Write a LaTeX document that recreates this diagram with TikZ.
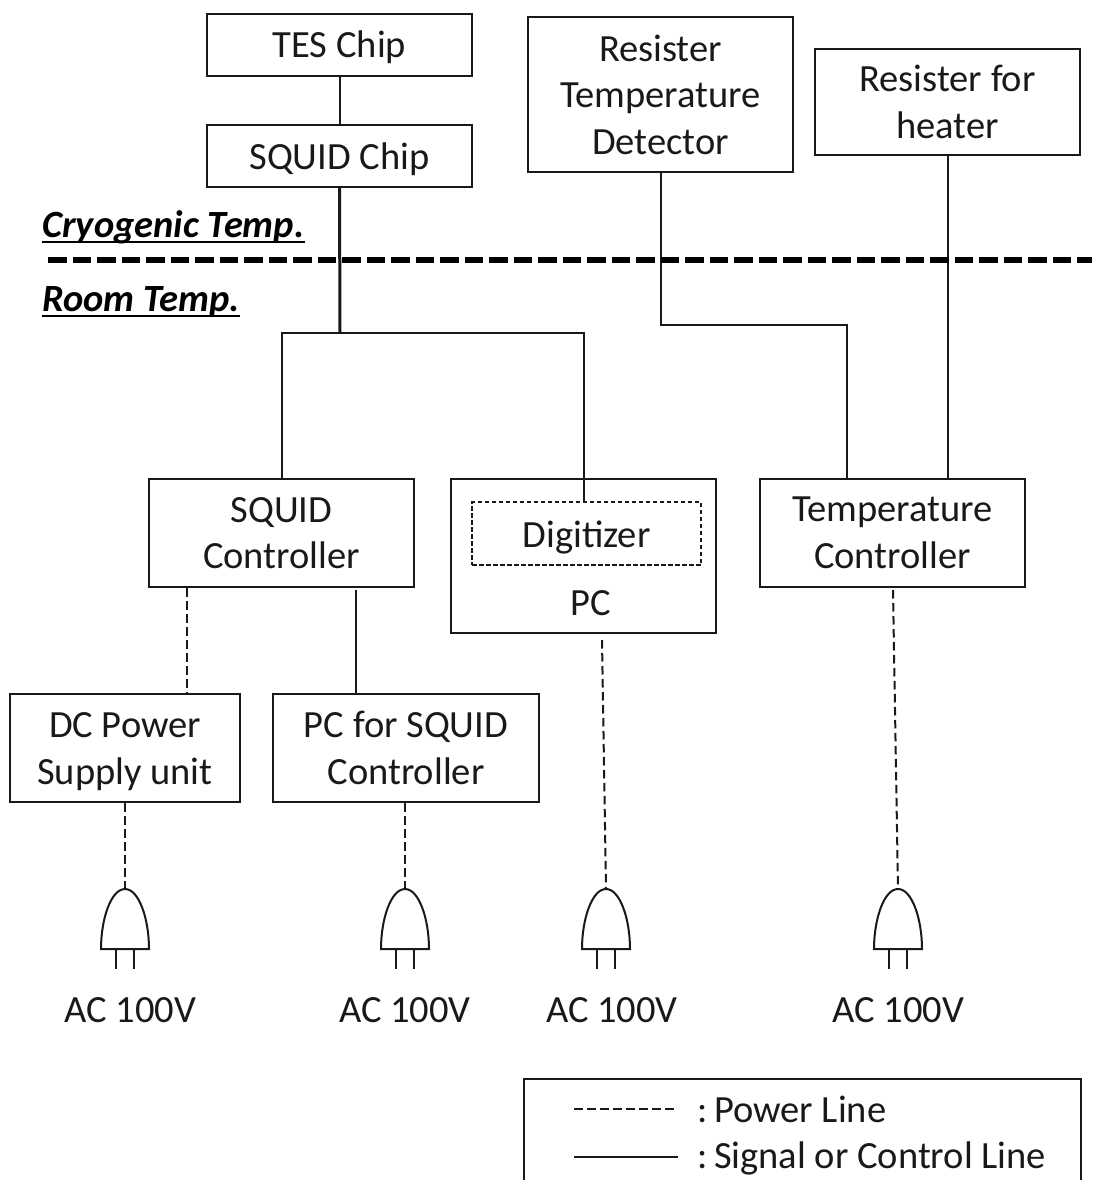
\documentclass[tikz,border=0pt]{standalone}
\usepackage{fontspec}
\setmainfont{Carlito}
\usetikzlibrary{calc}
\newcommand{\ulx}[1]{\setbox0=\hbox{#1}\rlap{\rule[-5.5pt]{\wd0}{2pt}}\box0}
\tikzset{
  x=1pt,y=-1pt,
  wire/.style={line width=2pt,black!90},
  heavy/.style={line width=3pt,black!90},
  power/.style={line width=2pt,black!90,dash pattern=on 8.5pt off 4.5pt},
  boxn/.style={draw=black!90,line width=2pt,fill=none,align=center,inner sep=0pt,font=\fontsize{38.5}{46.5}\selectfont,text=black!90},
  lab/.style={inner sep=0pt,font=\fontsize{38.5}{46}\selectfont,text=black!90},
  temp/.style={inner sep=0pt,anchor=base west,font=\fontsize{38.5}{46}\selectfont\bfseries\itshape},
}
\newcommand{\plugat}[3]{% name, x, y(tip)
  \coordinate (#1) at (#2,#3);
  \draw[line width=2pt,black!90,line join=miter] (#2-24,#3+60) .. controls (#2-24,#3+30) and (#2-14,#3) .. (#2,#3)
     .. controls (#2+14,#3) and (#2+24,#3+30) .. (#2+24,#3+60) -- cycle;
  \draw[line width=2pt,black!90] (#2-9.5,#3+60) -- (#2-9.5,#3+80) (#2+9,#3+60) -- (#2+9,#3+80);
}
\begin{document}
\begin{tikzpicture}
\useasboundingbox (0,0) rectangle (1092,1180);
\clip (0,0) rectangle (1092,1180);
% boxes
\node[boxn,minimum width=265pt,minimum height=62pt,text height=34pt,text depth=8pt] (tes) at (339.5,45) {TES Chip};
\node[boxn,minimum width=265pt,minimum height=62pt,text height=34pt,text depth=8pt] (squid) at (339.5,156) {SQUID Chip};
\node[boxn,minimum width=265pt,minimum height=155pt] (rtd) at (660.5,94.5) {Resister\\Temperature\\Detector};
\node[boxn,minimum width=265pt,minimum height=106pt] (heater) at (947.5,102) {Resister for\\heater};
\node[boxn,minimum width=265pt,minimum height=108pt] (sc) at (281.5,533) {SQUID\\Controller};
\node[boxn,minimum width=265pt,minimum height=154pt] (pc) at (583.5,556) {};
\node[boxn,draw=none] (pclab) at (591,603) {PC};
\node[boxn,minimum width=229pt,minimum height=63pt,dash pattern=on 4.5pt off 2.5pt,text height=35pt,text depth=8pt] (dig) at (586.5,533.5) {Digitizer};
\node[boxn,minimum width=265pt,minimum height=108pt] (tc) at (892.5,533) {Temperature\\Controller};
\node[boxn,minimum width=230pt,minimum height=108pt] (dc) at (125,748) {\rule{0pt}{32pt}DC Power\\Supply unit};
\node[boxn,minimum width=266pt,minimum height=108pt] (pcs) at (406,748) {PC for SQUID\\Controller};
% signal lines
\coordinate (junc) at (340,333);
\draw[wire] (tes.south) -- (squid.north);
\draw[heavy] (squid.south) -- (junc);
\draw[wire] (sc.north) |- (junc) -| (dig.north -| pc.north);
\draw[wire] (rtd.south) |- (847,325) coordinate (t1) -- (t1 |- tc.north);
\draw[wire] (heater.south) -- (heater.south |- tc.north);
\coordinate (sc2) at (356,590);
\draw[wire] (sc2) -- (sc2 |- pcs.north);
% temperature boundary
\coordinate (bl) at (48,260);
\coordinate (br) at (1092,260);
\draw[line width=6pt,black,dash pattern=on 18.5pt off 6pt] (bl) -- (br);
\node[temp] (cryo) at (42,237.5) {\ulx{Cryogenic Temp.}};
\node[temp] (room) at (42,311.5) {\ulx{Room Temp.}};
% plugs
\plugat{p1}{125}{889}
\plugat{p2}{405}{889}
\plugat{p3}{606}{889}
\plugat{p4}{898}{889}
% power lines
\coordinate (a1) at (187,588);
\draw[power] (a1) -- (a1 |- dc.north);
\draw[power] (dc.south) -- (p1);
\draw[power] (pcs.south -| p2) -- (p2);
\coordinate (a3) at (602,640);
\draw[power] (a3) -- (p3);
\coordinate (a4) at (893,590);
\draw[power] (a4) -- (p4);
% AC labels
\node[lab] (ac1) at (130.5,1010) {AC 100V};
\node[lab] (ac2) at (405,1010) {AC 100V};
\node[lab] (ac3) at (612,1010) {AC 100V};
\node[lab] (ac4) at (898.5,1010) {AC 100V};
% legend
\node[draw=black!90,line width=2pt,minimum width=557pt,minimum height=200pt,inner sep=0pt] (legend) at (802.5,1179) {};
\coordinate (l1a) at (574,1109);
\coordinate (l1b) at (678,1109);
\coordinate (l2a) at (574,1157);
\coordinate (l2b) at (678,1157);
\draw[wire,dash pattern=on 8.5pt off 4.5pt] (l1a) -- (l1b);
\draw[wire] (l2a) -- (l2b);
\node[lab,anchor=base west] (lt1) at (697,1122) {:\hspace{-5pt} Power Line};
\node[lab,anchor=base west] (lt2) at (697,1168) {:\hspace{-5pt} Signal or Control Line};
\end{tikzpicture}
\end{document}
